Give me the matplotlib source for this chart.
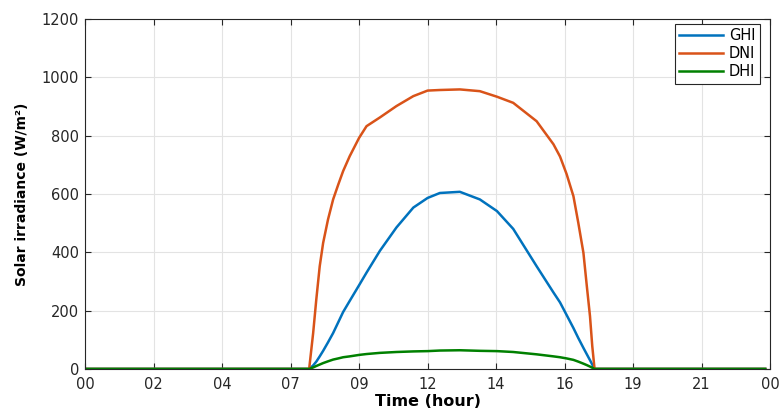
import matplotlib.pyplot as plt

plt.rcParams["font.family"] = ["DejaVu Sans"]

# time in hours, night values are zero
hour = [0.0, 7.85, 7.99, 8.10, 8.22, 8.34, 8.51, 8.69, 8.87, 9.04, 9.27, 9.60,
        9.86, 10.33, 10.91, 11.5, 12.0, 12.43, 13.13, 13.83, 14.43, 15.0,
        15.82, 16.41, 16.64, 16.87, 17.11, 17.28, 17.46, 17.58, 17.69, 17.77,
        17.85, 23.83]

dni = [0, 0, 123, 238, 352, 432, 512, 581, 632, 678, 729, 792,
       832, 862, 901, 935, 954, 956, 958, 952, 933, 912,
       849, 770, 728, 668, 592, 501, 398, 283, 181, 78,
       0, 0]

ghi = [0, 0, 12, 25, 43, 62, 91, 123, 160, 195, 233, 287,
       330, 405, 485, 553, 586, 603, 607, 581, 541, 480,
       352, 262, 228, 185, 140, 106, 72, 50, 30, 15,
       0, 0]

dhi = [0, 0, 5, 10, 15, 20, 26, 32, 36, 40, 43, 48,
       51, 55, 58, 60, 61, 63, 64, 62, 61, 58,
       50, 43, 40, 36, 31, 25, 18, 13, 8, 4,
       0, 0]

tick_pos = [0, 2.4, 4.8, 7.2, 9.6, 12, 14.4, 16.8, 19.2, 21.6, 24]
tick_lab = ["00", "02", "04", "07", "09", "12", "14", "16", "19", "21", "00"]

fig = plt.figure(figsize=(7.81, 4.09), dpi=100)
ax = fig.add_axes([0.109, 0.098, 0.877, 0.856])

ax.plot(hour, ghi, c="#0072BD", lw=1.8, label="GHI")
ax.plot(hour, dni, c="#D95319", lw=1.8, label="DNI")
ax.plot(hour, dhi, c="#008000", lw=1.8, label="DHI")

ax.set_xlim(0, 24)
ax.set_ylim(0, 1200)
ax.set_xticks(tick_pos)
ax.set_xticklabels(tick_lab)
ax.set_yticks(range(0, 1201, 200))
ax.grid(True, color="#e3e3e3", lw=0.8)
ax.set_axisbelow(True)
ax.tick_params(direction="in", top=True, right=True, length=4, width=0.8,
               colors="#262626", labelsize=10.5)
ax.tick_params(axis="x", pad=6)
ax.tick_params(axis="y", pad=4.5)
for s in ax.spines.values():
    s.set_color("#262626")
    s.set_linewidth(0.8)

ax.set_xlabel("Time (hour)", fontsize=11.5, fontweight="bold", labelpad=1)
ax.set_ylabel("Solar irradiance (W/m²)", fontsize=10, fontweight="bold", labelpad=9)

leg = ax.legend(loc="upper right", bbox_to_anchor=(0.985, 0.985), fontsize=10.5,
                fancybox=False, edgecolor="#262626", framealpha=1,
                handlelength=3.0, borderpad=0.3, labelspacing=0.2,
                handletextpad=0.4, borderaxespad=0)
leg.get_frame().set_linewidth(0.8)

fig.savefig("out.png", dpi=100)
